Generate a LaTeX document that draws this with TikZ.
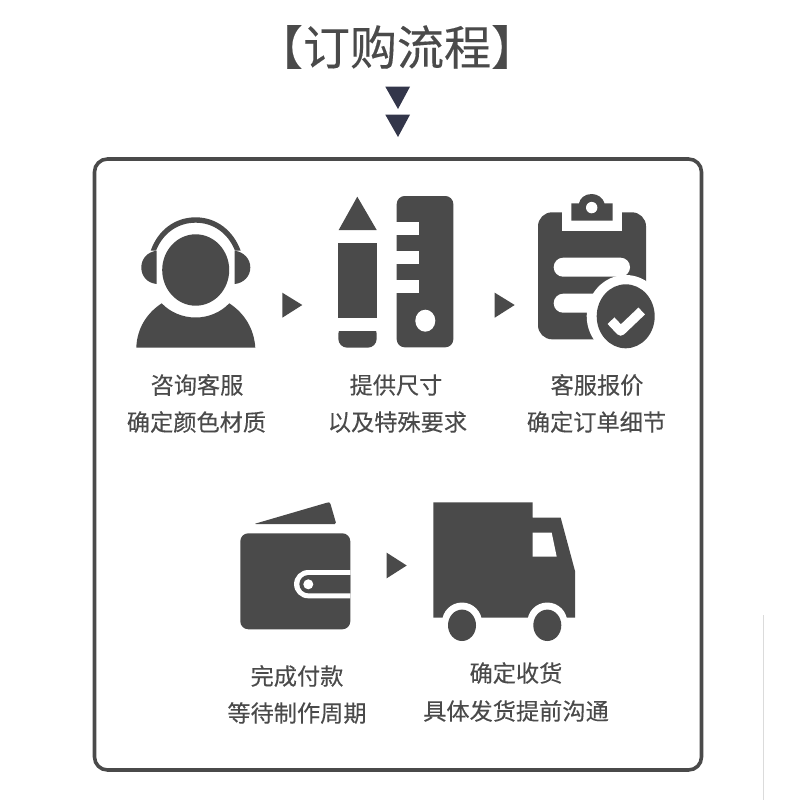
\documentclass[tikz,border=0pt]{standalone}
\usepackage{fontspec}
\setmainfont[FakeBold=0.25,AutoFakeBold=false]{Noto Sans CJK SC}
\newfontfamily\labfont[FakeStretch=1.0]{Noto Sans CJK SC}
\definecolor{ink}{HTML}{4A4A4A}
\definecolor{navy}{HTML}{33364A}
\tikzset{
  lab/.style={text=ink,font=\labfont\addfontfeature{FakeBold=0.2}\fontsize{23.2}{23.2}\selectfont,inner sep=0pt,anchor=center},
  ttl/.style={text=ink,font=\labfont\addfontfeature{FakeBold=0.25}\fontsize{47}{47}\selectfont,inner sep=0pt,anchor=center}
}
\begin{document}
\begin{tikzpicture}[x=1pt,y=-1pt]
\useasboundingbox[fill=white] (0,0) rectangle (800,800);
% title
\node[ttl] (title) at (397,47) {【订购流程】};
\fill[navy] (385.3,86.7) -- (410,86.7) -- (398,109) -- cycle;
\fill[navy] (385.3,114.7) -- (410,114.7) -- (398,137) -- cycle;
% frame
\draw[ink,line width=3.6pt,rounded corners=13pt] (94.5,159) rectangle (701.5,770);
\draw[black!14,line width=1.5pt] (763.5,615) -- (763.5,800);
% headset
\fill[ink] (195.7,270) ellipse [x radius=33.5,y radius=35.7];
\fill[ink] (136.3,347.7) .. controls (137,328) and (147,313) .. (161.7,303.3) .. controls (170,312) and (182,317.5) .. (195.7,317.5) .. controls (209,317.5) and (221,312) .. (229.3,303.3) .. controls (244,313) and (254,328) .. (255.3,347.7) -- cycle;
\fill[ink] (150.7,250.7) .. controls (158,230) and (175,217.3) .. (195.7,217.3) .. controls (216,217.3) and (233,230) .. (240.7,250.7) -- (235,250.7) .. controls (228,233) and (213,222.7) .. (195.7,222.7) .. controls (178,222.7) and (163,233) .. (156,250.7) -- cycle;
\fill[ink] (156.7,250.7) -- (156.7,284) .. controls (147,283) and (141.3,276) .. (141.3,267.5) .. controls (141.3,259) and (147,252) .. (156.7,250.7) -- cycle;
\fill[ink] (234.7,250.7) -- (234.7,284) .. controls (244,283) and (250.3,276) .. (250.3,267.5) .. controls (250.3,259) and (244,252) .. (234.7,250.7) -- cycle;
% arrow 1
\fill[ink] (282.3,292.7) -- (302.3,305) -- (282.3,317.7) -- cycle;
% pencil
\fill[ink] (357.3,196.7) -- (376.7,230) -- (338.7,230) -- cycle;
\fill[ink] (338.3,242.7) rectangle (376.7,318);
\fill[ink,rounded corners=9pt] (338.3,325) -- (338.3,347.7) -- (376.7,347.7) -- (376.7,325) -- cycle;
\fill[white] (336,318.5) rectangle (379,331);
% ruler
\fill[ink,rounded corners=8pt] (396.7,196) rectangle (453.3,347.3);
\fill[white] (394,221.7) rectangle (419.3,235);
\fill[white] (394,250.7) rectangle (419.3,264);
\fill[white] (394,280) rectangle (419.3,293.3);
\fill[white] (425.3,320.7) ellipse [x radius=10,y radius=11];
% arrow 2
\fill[ink] (494.7,292.7) -- (514.7,305) -- (494.7,317.7) -- cycle;
% clipboard
\fill[ink,rounded corners=14pt] (538,212.3) rectangle (646,339.3);
\fill[white] (562.3,205) rectangle (621.7,230.7);
\fill[ink] (571.3,220.7) -- (571.3,203.3) -- (579,203.3) .. controls (580,198) and (585,194) .. (591.7,194) .. controls (598,194) and (603,198) .. (604.5,203.3) -- (612.7,203.3) -- (612.7,220.7) -- cycle;
\fill[white] (591.7,207.6) circle [radius=5.7];
\fill[white,rounded corners=9.4pt] (553.7,257.7) rectangle (630,276.7);
\fill[white,rounded corners=9.4pt] (553.7,293.7) rectangle (620,312.7);
\fill[white] (625.7,316) ellipse [x radius=39,y radius=41];
\fill[ink] (625.7,316.3) ellipse [x radius=29,y radius=32];
\draw[white,line width=9.5pt,line join=round] (611,320.7) -- (620.7,331) -- (641.7,311);
% arrow 3
\fill[ink] (386.7,552.7) -- (406.7,565.5) -- (386.7,578.3) -- cycle;
% wallet
\fill[ink,rounded corners=8pt] (240.3,533.3) rectangle (350.3,629.3);
\fill[ink,rounded corners=1.5pt] (254,524) -- (328.3,502.3) -- (330,502.3) -- (336.3,524) -- cycle;
\fill[white] (350.3,570) -- (308.2,570) arc [start angle=-90,end angle=-270,radius=14.15] -- (350.3,598.3) -- cycle;
\fill[ink] (350.3,575) -- (308.5,575) arc [start angle=-90,end angle=-270,radius=9.15] -- (350.3,593.3) -- cycle;
\fill[white] (308.3,584.3) circle [radius=5];
% truck
\fill[ink] (433.3,502.3) -- (532.7,502.3) -- (532.7,517.7) -- (560.7,517.7) -- (575,571) -- (575,617.7) -- (433.3,617.7) -- cycle;
\fill[white] (532.7,532.7) -- (551.7,532.7) -- (556.7,556.7) -- (532.7,556.7) -- cycle;
\fill[white] (462,622.5) circle [radius=20];
\fill[white] (547.3,622.5) circle [radius=20];
\fill[ink] (462,625.3) ellipse [x radius=14,y radius=15.7];
\fill[ink] (547.3,625.3) ellipse [x radius=14,y radius=15.7];
% labels
\node[lab] (a1) at (197,385) {咨询客服};
\node[lab] (a2) at (196.5,422) {确定颜色材质};
\node[lab] (b1) at (396,385) {提供尺寸};
\node[lab] (b2) at (397.5,422) {以及特殊要求};
\node[lab] (c1) at (597,385) {客服报价};
\node[lab] (c2) at (596.5,422) {确定订单细节};
\node[lab] (d1) at (297,676) {完成付款};
\node[lab] (d2) at (297,713) {等待制作周期};
\node[lab] (e1) at (516,673) {确定收货};
\node[lab] (e2) at (516,711) {具体发货提前沟通};
\end{tikzpicture}
\end{document}
